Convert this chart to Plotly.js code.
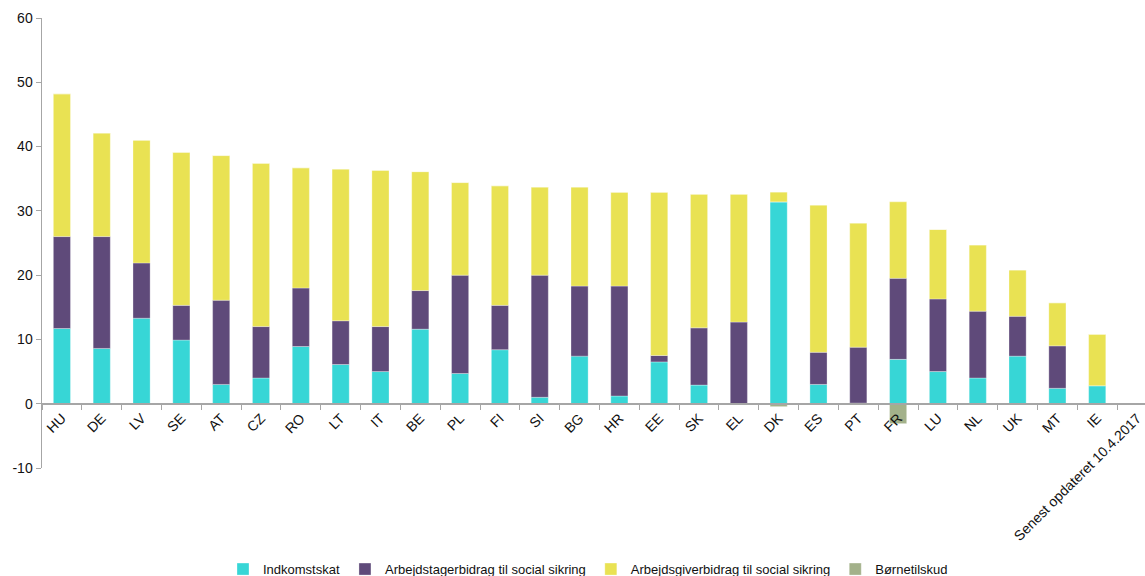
<!DOCTYPE html>
<html>
<head>
<meta charset="utf-8">
<script src="https://cdn.plot.ly/plotly-3.0.1.min.js"></script>
<style>html,body{margin:0;padding:0;background:#fff;}#chart{width:1145px;height:576px;}</style>
</head>
<body>
<div id="chart"></div>
<script>
const categories = ["HU","DE","LV","SE","AT","CZ","RO","LT","IT","BE","PL","FI","SI","BG","HR","EE","SK","EL","DK","ES","PT","FR","LU","NL","UK","MT","IE","Senest opdateret 10.4.2017"];
const indkomstskat = [11.7,8.6,13.3,9.9,3.0,4.0,8.9,6.1,5.0,11.6,4.7,8.4,1.0,7.4,1.2,6.5,2.9,0.0,31.4,3.0,0.1,6.9,5.0,4.0,7.4,2.4,2.8,null];
const arbejdstager = [14.3,17.4,8.6,5.4,13.1,8.0,9.1,6.8,7.0,6.0,15.3,6.9,19.0,10.9,17.1,1.0,8.9,12.7,0.0,5.0,8.7,12.6,11.3,10.4,6.2,6.6,0.0,null];
const arbejdsgiver = [22.2,16.1,19.1,23.8,22.5,25.4,18.7,23.6,24.3,18.5,14.4,18.6,13.7,15.4,14.6,25.4,20.8,19.9,1.5,22.9,19.3,11.9,10.8,10.3,7.2,6.7,8.0,null];
const boernetilskud = [0,0,0,0,0,0,0,0,0,0,0,0,0,0,0,0,0,0,-0.45,0,0,-3.1,0,0,0,0,0,null];
const yTickVals = [-10,0,10,20,30,40,50,60];
const yTickText = ["-10","0","10","20","30","40","50","60"];

const names = ["Indkomstskat","Arbejdstagerbidrag til social sikring","Arbejdsgiverbidrag til social sikring","Børnetilskud"];
const colors = ["#37d6d6","#5f4a7a","#e9e253","#a3b18a"];
const series = [indkomstskat, arbejdstager, arbejdsgiver, boernetilskud];

const traces = series.map((vals, i) => ({
  type: "bar",
  name: names[i],
  x: categories,
  y: vals,
  marker: {color: colors[i], line: {color: "rgba(255,255,255,0.6)", width: 0.5}},
  hoverinfo: "x+y+name"
}));

const layout = {
  width: 1145,
  height: 576,
  margin: {l: 42, r: 0, t: 18, b: 108},
  barmode: "relative",
  bargap: 0.57,
  paper_bgcolor: "#ffffff",
  plot_bgcolor: "#ffffff",
  font: {family: "Liberation Sans, Arial, sans-serif", size: 14, color: "#222"},
  xaxis: {
    type: "category",
    range: [-0.5, 27.2],
    anchor: "free",
    position: 10/70,
    showline: true,
    linecolor: "#a6a6a6",
    linewidth: 2,
    ticks: "outside",
    tickson: "boundaries",
    ticklen: 5,
    tickcolor: "#a6a6a6",
    tickangle: -45,
    tickfont: {size: 14, color: "#111"},
    showgrid: false,
    zeroline: false,
    automargin: false
  },
  yaxis: {
    range: [-10, 60],
    tickmode: "array",
    tickvals: yTickVals,
    ticktext: yTickText,
    showline: true,
    linecolor: "#a6a6a6",
    linewidth: 1.5,
    ticks: "outside",
    ticklen: 5,
    tickcolor: "#a6a6a6",
    tickfont: {size: 14, color: "#111"},
    showgrid: false,
    zeroline: false,
    automargin: false
  },
  legend: {
    orientation: "h",
    x: 0.495,
    xanchor: "center",
    xref: "paper",
    yref: "container",
    y: 0.012,
    yanchor: "middle",
    font: {size: 13, color: "#111"},
    traceorder: "normal"
  },
  showlegend: true
};

Plotly.newPlot("chart", traces, layout, {displayModeBar: false, staticPlot: true});
</script>
</body>
</html>
